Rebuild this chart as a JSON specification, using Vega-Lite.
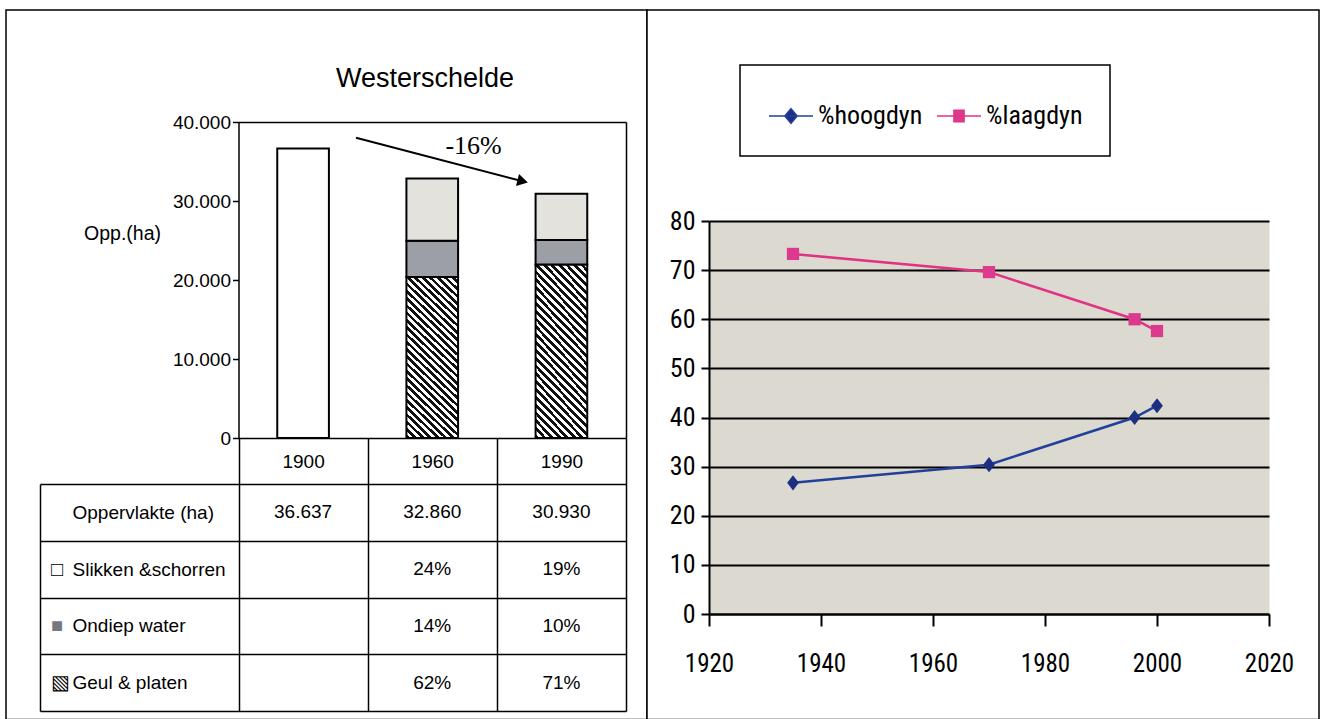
{
  "$schema": "https://vega.github.io/schema/vega-lite/v6.json",
  "background": "white",
  "padding": {"left": 5, "top": 0, "right": 2, "bottom": 0},
  "spacing": 0,
  "bounds": "flush",
  "resolve": {
    "scale": {"color": "independent", "fill": "independent", "shape": "independent"},
    "legend": {"color": "independent", "fill": "independent", "shape": "independent"}
  },
  "config": {
    "locale": {"number": {"decimal": ",", "thousands": ".", "grouping": [3], "currency": ["€ ", ""]}},
    "axis": {"labelColor": "black", "titleColor": "black", "domainColor": "black", "tickColor": "black", "labelFont": "Liberation Sans", "titleFont": "Liberation Sans"},
    "legend": {"strokeColor": "black", "strokeWidth": 1.5, "fillColor": "white"},
    "text": {"color": "black"}
  },
  "datasets": {
    "oppervlak": [
      {"jaar": "1900", "deel": "Totaal", "volgorde": 1, "ha": 36637, "aandeel": null},
      {"jaar": "1960", "deel": "Geul & platen", "volgorde": 1, "ha": 20373, "aandeel": 0.62},
      {"jaar": "1960", "deel": "Ondiep water", "volgorde": 2, "ha": 4600, "aandeel": 0.14},
      {"jaar": "1960", "deel": "Slikken &schorren", "volgorde": 3, "ha": 7887, "aandeel": 0.24},
      {"jaar": "1990", "deel": "Geul & platen", "volgorde": 1, "ha": 21960, "aandeel": 0.71},
      {"jaar": "1990", "deel": "Ondiep water", "volgorde": 2, "ha": 3093, "aandeel": 0.10},
      {"jaar": "1990", "deel": "Slikken &schorren", "volgorde": 3, "ha": 5877, "aandeel": 0.19}
    ],
    "pijl": [
      {"van": "1900", "naar": "1990", "begin": 38000, "eind": 32500}
    ],
    "dynamiek": [
      {"serie": "%hoogdyn", "jaar": 1935, "procent": 26.7},
      {"serie": "%hoogdyn", "jaar": 1970, "procent": 30.4},
      {"serie": "%hoogdyn", "jaar": 1996, "procent": 40.0},
      {"serie": "%hoogdyn", "jaar": 2000, "procent": 42.4},
      {"serie": "%laagdyn", "jaar": 1935, "procent": 73.3},
      {"serie": "%laagdyn", "jaar": 1970, "procent": 69.6},
      {"serie": "%laagdyn", "jaar": 1996, "procent": 60.0},
      {"serie": "%laagdyn", "jaar": 2000, "procent": 57.6}
    ]
  },
  "hconcat": [
    {
      "width": 641,
      "height": 709.5,
      "view": {"stroke": "black", "strokeWidth": 1.5, "fill": "white"},
      "title": {"text": "Westerschelde", "orient": "top", "anchor": "middle", "frame": "group", "offset": -92, "dx": 98.5, "font": "Liberation Sans", "fontSize": 27, "fontWeight": "normal", "color": "black"},
      "resolve": {"scale": {"y": "independent"}, "axis": {"x": "independent", "y": "independent"}},
      "layer": [
        {
          "data": {"name": "oppervlak"},
          "mark": {"type": "bar", "width": {"band": 0.4}, "stroke": "black", "strokeWidth": 2},
          "encoding": {
            "x": {
              "field": "jaar", "type": "nominal",
              "scale": {"domain": ["1900", "1960", "1990"], "range": [232.5, 620], "paddingInner": 0, "paddingOuter": 0},
              "axis": {"orient": "bottom", "offset": -281.5, "title": null, "labelAngle": 0, "labelOverlap": false, "domainWidth": 1.5, "tickBand": "extent", "tickSize": 46, "tickWidth": 1.5, "labelPadding": -23, "labelBaseline": "middle", "labelFontSize": 19, "grid": false}
            },
            "y": {
              "field": "ha", "type": "quantitative", "stack": "zero",
              "scale": {"domain": [0, 40000], "range": [428, 112], "nice": false},
              "axis": {"orient": "left", "offset": -232.5, "values": [0, 10000, 20000, 30000, 40000], "format": ",d", "grid": false, "tickSize": 6, "tickWidth": 1.5, "labelPadding": 2, "labelFontSize": 19, "labelFlush": false, "domainWidth": 1.5, "title": "Opp.(ha)", "titleAngle": 0, "titleX": -116.5, "titleY": 223, "titleAlign": "center", "titleBaseline": "middle", "titleFontSize": 19.5, "titleFontWeight": "normal"}
            },
            "order": {"field": "volgorde", "type": "quantitative"},
            "fill": {
              "condition": {
                "test": "datum.deel === 'Geul & platen'",
                "value": {
                  "gradient": "linear", "x1": 0, "y1": 1, "x2": 0.37, "y2": -0.195,
                  "stops": [
                    {"offset": 0, "color": "#111111"}, {"offset": 0.0172, "color": "#111111"}, {"offset": 0.0172, "color": "#ffffff"}, {"offset": 0.0345, "color": "#ffffff"},
                    {"offset": 0.0345, "color": "#111111"}, {"offset": 0.0517, "color": "#111111"}, {"offset": 0.0517, "color": "#ffffff"}, {"offset": 0.0690, "color": "#ffffff"},
                    {"offset": 0.0690, "color": "#111111"}, {"offset": 0.0862, "color": "#111111"}, {"offset": 0.0862, "color": "#ffffff"}, {"offset": 0.1034, "color": "#ffffff"},
                    {"offset": 0.1034, "color": "#111111"}, {"offset": 0.1207, "color": "#111111"}, {"offset": 0.1207, "color": "#ffffff"}, {"offset": 0.1379, "color": "#ffffff"},
                    {"offset": 0.1379, "color": "#111111"}, {"offset": 0.1552, "color": "#111111"}, {"offset": 0.1552, "color": "#ffffff"}, {"offset": 0.1724, "color": "#ffffff"},
                    {"offset": 0.1724, "color": "#111111"}, {"offset": 0.1897, "color": "#111111"}, {"offset": 0.1897, "color": "#ffffff"}, {"offset": 0.2069, "color": "#ffffff"},
                    {"offset": 0.2069, "color": "#111111"}, {"offset": 0.2241, "color": "#111111"}, {"offset": 0.2241, "color": "#ffffff"}, {"offset": 0.2414, "color": "#ffffff"},
                    {"offset": 0.2414, "color": "#111111"}, {"offset": 0.2586, "color": "#111111"}, {"offset": 0.2586, "color": "#ffffff"}, {"offset": 0.2759, "color": "#ffffff"},
                    {"offset": 0.2759, "color": "#111111"}, {"offset": 0.2931, "color": "#111111"}, {"offset": 0.2931, "color": "#ffffff"}, {"offset": 0.3103, "color": "#ffffff"},
                    {"offset": 0.3103, "color": "#111111"}, {"offset": 0.3276, "color": "#111111"}, {"offset": 0.3276, "color": "#ffffff"}, {"offset": 0.3448, "color": "#ffffff"},
                    {"offset": 0.3448, "color": "#111111"}, {"offset": 0.3621, "color": "#111111"}, {"offset": 0.3621, "color": "#ffffff"}, {"offset": 0.3793, "color": "#ffffff"},
                    {"offset": 0.3793, "color": "#111111"}, {"offset": 0.3966, "color": "#111111"}, {"offset": 0.3966, "color": "#ffffff"}, {"offset": 0.4138, "color": "#ffffff"},
                    {"offset": 0.4138, "color": "#111111"}, {"offset": 0.4310, "color": "#111111"}, {"offset": 0.4310, "color": "#ffffff"}, {"offset": 0.4483, "color": "#ffffff"},
                    {"offset": 0.4483, "color": "#111111"}, {"offset": 0.4655, "color": "#111111"}, {"offset": 0.4655, "color": "#ffffff"}, {"offset": 0.4828, "color": "#ffffff"},
                    {"offset": 0.4828, "color": "#111111"}, {"offset": 0.5000, "color": "#111111"}, {"offset": 0.5000, "color": "#ffffff"}, {"offset": 0.5172, "color": "#ffffff"},
                    {"offset": 0.5172, "color": "#111111"}, {"offset": 0.5345, "color": "#111111"}, {"offset": 0.5345, "color": "#ffffff"}, {"offset": 0.5517, "color": "#ffffff"},
                    {"offset": 0.5517, "color": "#111111"}, {"offset": 0.5690, "color": "#111111"}, {"offset": 0.5690, "color": "#ffffff"}, {"offset": 0.5862, "color": "#ffffff"},
                    {"offset": 0.5862, "color": "#111111"}, {"offset": 0.6034, "color": "#111111"}, {"offset": 0.6034, "color": "#ffffff"}, {"offset": 0.6207, "color": "#ffffff"},
                    {"offset": 0.6207, "color": "#111111"}, {"offset": 0.6379, "color": "#111111"}, {"offset": 0.6379, "color": "#ffffff"}, {"offset": 0.6552, "color": "#ffffff"},
                    {"offset": 0.6552, "color": "#111111"}, {"offset": 0.6724, "color": "#111111"}, {"offset": 0.6724, "color": "#ffffff"}, {"offset": 0.6897, "color": "#ffffff"},
                    {"offset": 0.6897, "color": "#111111"}, {"offset": 0.7069, "color": "#111111"}, {"offset": 0.7069, "color": "#ffffff"}, {"offset": 0.7241, "color": "#ffffff"},
                    {"offset": 0.7241, "color": "#111111"}, {"offset": 0.7414, "color": "#111111"}, {"offset": 0.7414, "color": "#ffffff"}, {"offset": 0.7586, "color": "#ffffff"},
                    {"offset": 0.7586, "color": "#111111"}, {"offset": 0.7759, "color": "#111111"}, {"offset": 0.7759, "color": "#ffffff"}, {"offset": 0.7931, "color": "#ffffff"},
                    {"offset": 0.7931, "color": "#111111"}, {"offset": 0.8103, "color": "#111111"}, {"offset": 0.8103, "color": "#ffffff"}, {"offset": 0.8276, "color": "#ffffff"},
                    {"offset": 0.8276, "color": "#111111"}, {"offset": 0.8448, "color": "#111111"}, {"offset": 0.8448, "color": "#ffffff"}, {"offset": 0.8621, "color": "#ffffff"},
                    {"offset": 0.8621, "color": "#111111"}, {"offset": 0.8793, "color": "#111111"}, {"offset": 0.8793, "color": "#ffffff"}, {"offset": 0.8966, "color": "#ffffff"},
                    {"offset": 0.8966, "color": "#111111"}, {"offset": 0.9138, "color": "#111111"}, {"offset": 0.9138, "color": "#ffffff"}, {"offset": 0.9310, "color": "#ffffff"},
                    {"offset": 0.9310, "color": "#111111"}, {"offset": 0.9483, "color": "#111111"}, {"offset": 0.9483, "color": "#ffffff"}, {"offset": 0.9655, "color": "#ffffff"},
                    {"offset": 0.9655, "color": "#111111"}, {"offset": 0.9828, "color": "#111111"}, {"offset": 0.9828, "color": "#ffffff"}, {"offset": 1, "color": "#ffffff"}
                  ]
                }
              },
              "field": "deel", "type": "nominal",
              "scale": {"domain": ["Totaal", "Slikken &schorren", "Ondiep water", "Geul & platen"], "range": ["#ffffff", "#e3e2dc", "#9d9fa6", "#111111"]},
              "legend": null
            }
          }
        },
        {
          "data": {"name": "pijl"},
          "mark": {"type": "rule", "strokeWidth": 2, "color": "black"},
          "encoding": {
            "x": {"field": "van", "type": "nominal", "bandPosition": 0.91, "axis": {"orient": "top", "offset": -112, "labels": false, "ticks": false, "grid": false, "title": null, "domainWidth": 1.5, "minExtent": 0}},
            "x2": {"field": "naar", "bandPosition": 0.2},
            "y": {"field": "begin", "type": "quantitative", "scale": {"domain": [0, 40000], "range": [428, 112], "nice": false}, "axis": {"orient": "right", "offset": -21, "labels": false, "ticks": false, "grid": false, "title": null, "domainWidth": 1.5, "minExtent": 0}},
            "y2": {"field": "eind"}
          }
        },
        {
          "data": {"name": "pijl"},
          "mark": {"type": "point", "shape": "triangle-right", "filled": true, "color": "black", "opacity": 1, "size": 150, "angle": 14},
          "encoding": {
            "x": {"field": "naar", "type": "nominal", "bandPosition": 0.2, "axis": null},
            "y": {"field": "eind", "type": "quantitative", "scale": {"domain": [0, 40000], "range": [428, 112], "nice": false}, "axis": null}
          }
        },
        {
          "data": {"values": [{"jaar": "1960", "waarde": 37000, "tekst": "-16%"}]},
          "mark": {"type": "text", "font": "Liberation Serif", "fontSize": 26, "baseline": "middle", "align": "center"},
          "encoding": {
            "x": {"field": "jaar", "type": "nominal", "bandPosition": 0.82, "axis": null},
            "y": {"field": "waarde", "type": "quantitative", "scale": {"domain": [0, 40000], "range": [428, 112], "nice": false}, "axis": null},
            "text": {"field": "tekst"}
          }
        },
        {
          "data": {"name": "oppervlak"},
          "transform": [{"filter": "datum.aandeel != null"}],
          "mark": {"type": "text", "font": "Liberation Sans", "fontSize": 19, "baseline": "middle", "align": "center"},
          "encoding": {
            "x": {"field": "jaar", "type": "nominal", "axis": {"orient": "top", "offset": -474, "minExtent": 0, "domain": false, "labels": false, "ticks": false, "grid": true, "tickBand": "extent", "gridColor": "black", "gridWidth": 1.5, "gridOpacity": 1, "title": null}},
            "y": {
              "field": "deel", "type": "nominal",
              "scale": {"domain": ["Oppervlakte (ha)", "Slikken &schorren", "Ondiep water", "Geul & platen"], "range": [474, 701], "paddingInner": 0, "paddingOuter": 0},
              "axis": {"orient": "left", "offset": -34, "title": null, "domainWidth": 1.5, "tickBand": "extent", "tickSize": -198.5, "tickWidth": 1.5, "grid": true, "gridColor": "black", "gridWidth": 1.5, "gridOpacity": 1, "labelAlign": "left", "labelBaseline": "middle", "labelPadding": 166.5, "labelFontSize": 19, "labelLimit": 0}
            },
            "text": {"field": "aandeel", "type": "quantitative", "format": ".0%"}
          }
        },
        {
          "data": {"name": "oppervlak"},
          "transform": [{"aggregate": [{"op": "sum", "field": "ha", "as": "totaal"}], "groupby": ["jaar"]}],
          "mark": {"type": "text", "font": "Liberation Sans", "fontSize": 19, "baseline": "middle", "align": "center"},
          "encoding": {
            "x": {"field": "jaar", "type": "nominal", "axis": null},
            "y": {
              "datum": "Oppervlakte (ha)", "type": "nominal",
              "scale": {"domain": ["Oppervlakte (ha)", "Slikken &schorren", "Ondiep water", "Geul & platen"], "range": [474, 701], "paddingInner": 0, "paddingOuter": 0},
              "axis": {"orient": "left", "offset": -34, "title": null, "domain": false, "ticks": false, "grid": false, "labelAlign": "left", "labelBaseline": "middle", "labelPadding": -10.5, "labelFontSize": 20, "labelLimit": 0,
                "labelExpr": "datum.value === 'Slikken &schorren' ? '□' : datum.value === 'Ondiep water' ? '■' : datum.value === 'Geul & platen' ? '▧' : ''",
                "labelColor": {"condition": {"test": "datum.value === 'Ondiep water'", "value": "#76787f"}, "value": "black"}}
            },
            "text": {"field": "totaal", "type": "quantitative", "format": ",d"}
          }
        }
      ]
    },
    {
      "width": 672,
      "height": 709.5,
      "view": {"stroke": "black", "strokeWidth": 1.5, "fill": "white"},
      "resolve": {"axis": {"x": "independent"}},
      "layer": [
        {
          "data": {"name": "dynamiek"},
          "mark": {"type": "line", "strokeWidth": 2.5},
          "encoding": {
            "x": {
              "field": "jaar", "type": "quantitative",
              "scale": {"domain": [1920, 2020], "range": [62, 622], "nice": false, "zero": false},
              "axis": {"orient": "bottom", "offset": -105.5, "values": [1920, 1940, 1960, 1980, 2000, 2020], "format": "d", "title": null, "grid": false, "domainWidth": 2, "tickSize": 12, "tickWidth": 2, "labelPadding": 25, "labelFont": "Roboto Condensed, DejaVu Sans Condensed, Liberation Sans Narrow, Liberation Sans", "labelFontSize": 25, "labelFlush": false, "labelOverlap": false}
            },
            "y": {
              "field": "procent", "type": "quantitative",
              "scale": {"domain": [0, 80], "range": [604, 211], "nice": false},
              "axis": {"orient": "left", "offset": -62, "values": [0, 10, 20, 30, 40, 50, 60, 70, 80], "title": null, "grid": true, "gridColor": "black", "gridWidth": 2, "gridOpacity": 1, "domainWidth": 2, "tickSize": 8, "tickWidth": 2, "labelPadding": 6, "labelFont": "Roboto Condensed, DejaVu Sans Condensed, Liberation Sans Narrow, Liberation Sans", "labelFontSize": 26, "labelFlush": false}
            },
            "color": {
              "field": "serie", "type": "nominal",
              "scale": {"domain": ["%hoogdyn", "%laagdyn"], "range": ["#21409a", "#e03384"]},
              "legend": {
                "orient": "none", "legendX": 93, "legendY": 55, "direction": "horizontal", "columns": 2, "title": null,
                "padding": 27, "labelFont": "Roboto Condensed, DejaVu Sans Condensed, Liberation Sans Narrow, Liberation Sans", "labelFontSize": 26, "labelColor": "black",
                "symbolSize": 2116, "symbolStrokeWidth": 1.5, "labelOffset": 3, "columnPadding": 10,
                "encoding": {
                  "symbols": {
                    "shape": {"condition": {"test": "datum.value === '%laagdyn'", "value": "M-0.957,0H0.957M-0.22,-0.25H0.22V0.25H-0.22Z"}, "value": "M-0.957,0H0.957M0,-0.32L0.27,0L0,0.32L-0.27,0Z"},
                    "fill": {"condition": {"test": "datum.value === '%laagdyn'", "value": "#dc3a8e"}, "value": "#1c2f80"}
                  }
                }
              }
            }
          }
        },
        {
          "data": {"name": "dynamiek"},
          "transform": [{"filter": "datum.serie === '%hoogdyn'"}],
          "mark": {"type": "point", "shape": "M0,-1.1L0.85,0L0,1.1L-0.85,0Z", "filled": true, "color": "#1c2f80", "size": 190, "opacity": 1},
          "encoding": {
            "x": {
              "field": "jaar", "type": "quantitative",
              "axis": {"orient": "top", "offset": -211, "minExtent": 0, "values": [1970], "domain": false, "labels": false, "ticks": false, "title": null, "grid": true, "gridColor": "#dcd9d0", "gridWidth": 560, "gridOpacity": 1}
            },
            "y": {"field": "procent", "type": "quantitative"}
          }
        },
        {
          "data": {"name": "dynamiek"},
          "transform": [{"filter": "datum.serie === '%laagdyn'"}],
          "mark": {"type": "point", "shape": "square", "filled": true, "color": "#dc3a8e", "size": 150, "opacity": 1},
          "encoding": {
            "x": {"field": "jaar", "type": "quantitative", "axis": null},
            "y": {"field": "procent", "type": "quantitative"}
          }
        }
      ]
    }
  ]
}
